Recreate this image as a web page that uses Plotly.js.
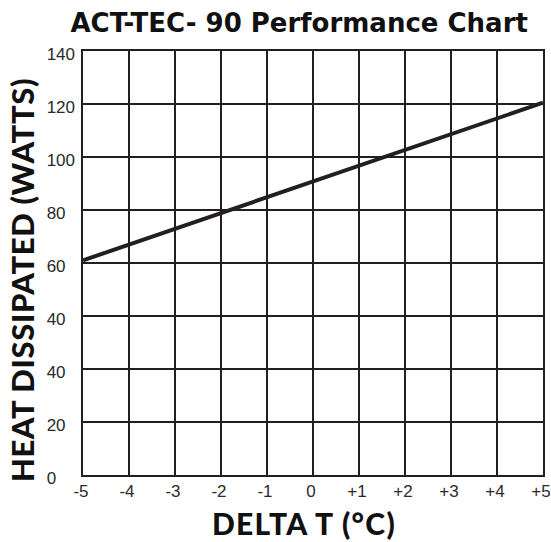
<!DOCTYPE html>
<html>
<head>
<meta charset="utf-8">
<script src="https://cdn.plot.ly/plotly-3.0.1.min.js"></script>
<style>
html,body{margin:0;padding:0;background:#fff;}
#chart{width:551px;height:542px;}
#chart .xtitle{letter-spacing:1.3px;}
#chart .ytitle{letter-spacing:0.6px;}
#chart .g-xtitle{transform:translate(-9px,0px);}
#chart .g-ytitle{transform:translate(0px,17px);}
</style>
</head>
<body>
<div id="chart"></div>
<script>
// Delta T values (°C) at the two ends of the performance line
var deltaT = [-5, 5];
// Heat dissipated, expressed in the chart's gridline positions (each grid row = 20)
var heatPos = [81, 140.5];
// X tick values and labels
var xTickVals = [-5, -4, -3, -2, -1, 0, 1, 2, 3, 4, 5];
var xTickText = ['-5', '-4', '-3', '-2', '-1', '0', '+1', '+2', '+3', '+4', '+5'];
// Y tick positions and the labels printed on the chart (left-aligned with figure spaces)
var yTickVals = [0, 20, 40, 60, 80, 100, 120, 140, 160];
var yTickText = ['0\u2007\u2007', '20\u2007', '40\u2007', '40\u2007', '60\u2007', '80\u2007', '100', '120', '140'];

var ink = '#231f20';
var tickFont = {family: '"Liberation Sans", Arial, sans-serif', size: 17, color: '#2a2a2a'};

var trace = {
  x: deltaT,
  y: heatPos,
  type: 'scatter',
  mode: 'lines',
  line: {color: ink, width: 4},
  cliponaxis: false,
  hoverinfo: 'skip'
};

var layout = {
  width: 551,
  height: 542,
  margin: {l: 83, r: 8, t: 51, b: 67},
  paper_bgcolor: '#fff',
  plot_bgcolor: '#fff',
  showlegend: false,
  title: {
    text: 'ACT-TEC- 90 Performance Chart',
    font: {family: '"DejaVu Sans", sans-serif', size: 26, weight: 700, color: '#111'},
    x: 0.543, xanchor: 'center',
    y: 0.958, yanchor: 'middle'
  },
  xaxis: {
    range: [-5, 5],
    tickmode: 'array',
    tickvals: xTickVals,
    ticktext: xTickText,
    showgrid: true,
    gridcolor: ink,
    gridwidth: 1.6,
    zeroline: false,
    showline: true,
    linecolor: ink,
    linewidth: 1.6,
    mirror: true,
    ticks: '',
    ticklabelstandoff: 0,
    ticklabelshift: -2,
    ticklabeloverflow: 'allow',
    tickfont: tickFont,
    title: {
      text: 'DELTA T (°C)',
      font: {family: 'Lato, "Open Sans", sans-serif', size: 30, weight: 900, color: '#111'},
      standoff: 14
    },
    fixedrange: true
  },
  yaxis: {
    range: [0, 160],
    tickmode: 'array',
    tickvals: yTickVals,
    ticktext: yTickText,
    showgrid: true,
    gridcolor: ink,
    gridwidth: 1.6,
    zeroline: false,
    showline: true,
    linecolor: ink,
    linewidth: 1.6,
    mirror: true,
    ticks: '',
    ticklabelstandoff: 3,
    ticklabelshift: 3,
    ticklabeloverflow: 'allow',
    tickfont: tickFont,
    title: {
      text: 'HEAT DISSIPATED (WATTS)',
      font: {family: 'Lato, "Open Sans", sans-serif', size: 31, weight: 900, color: '#111'},
      standoff: 3
    },
    fixedrange: true
  }
};

Plotly.newPlot('chart', [trace], layout, {staticPlot: true, displayModeBar: false});
</script>
</body>
</html>
